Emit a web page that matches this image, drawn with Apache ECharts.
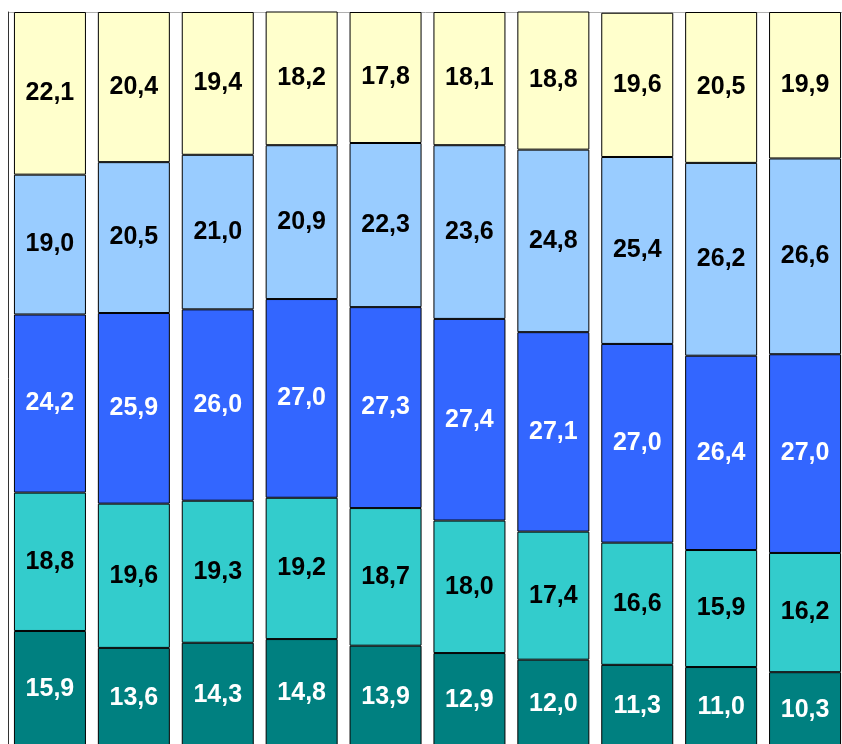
<!DOCTYPE html>
<html>
<head>
<meta charset="utf-8">
<script src="https://cdn.jsdelivr.net/npm/echarts@6/dist/echarts.min.js"></script>
<style>
  html, body { margin: 0; padding: 0; background: #fff; }
  #chart { width: 842px; height: 744px; }
</style>
</head>
<body>
<div id="chart"></div>
<script>
var categories = ['1', '2', '3', '4', '5', '6', '7', '8', '9', '10'];
// bottom to top
var darkTeal = [15.9, 13.6, 14.3, 14.8, 13.9, 12.9, 12.0, 11.3, 11.0, 10.3];
var teal = [18.8, 19.6, 19.3, 19.2, 18.7, 18.0, 17.4, 16.6, 15.9, 16.2];
var blue = [24.2, 25.9, 26.0, 27.0, 27.3, 27.4, 27.1, 27.0, 26.4, 27.0];
var lightBlue = [19.0, 20.5, 21.0, 20.9, 22.3, 23.6, 24.8, 25.4, 26.2, 26.6];
var yellow = [22.1, 20.4, 19.4, 18.2, 17.8, 18.1, 18.8, 19.6, 20.5, 19.9];

var chart = echarts.init(document.getElementById('chart'));

function seg(name, data, fill, textColor) {
    return {
        name: name,
        type: 'bar',
        stack: 'total',
        barWidth: 72,
        data: data,
        itemStyle: {
            color: fill,
            borderColor: '#000',
            borderWidth: 1
        },
        label: {
            show: true,
            position: 'inside',
            color: textColor,
            fontSize: 25,
            fontWeight: 'bold',
            fontFamily: '"Liberation Sans", Arial, sans-serif',
            formatter: function (p) {
                return p.value.toFixed(1).replace('.', ',');
            }
        }
    };
}

var option = {
    animation: false,
    grid: {
        left: 8, top: 12, width: 839, height: 736,
        outerBoundsMode: 'none'
    },
    xAxis: {
        type: 'category',
        data: categories,
        axisLine: { show: false },
        axisTick: { show: false },
        axisLabel: { show: false }
    },
    yAxis: {
        type: 'value',
        min: 0,
        max: 100,
        interval: 100,
        axisLine: { show: true, lineStyle: { color: '#333', width: 1 } },
        axisTick: { show: false },
        axisLabel: { show: false },
        splitLine: { show: true, lineStyle: { color: '#b0b0b0' } }
    },
    series: [
        seg('s1', darkTeal, '#008080', '#fff'),
        seg('s2', teal, '#33CCCC', '#000'),
        seg('s3', blue, '#3366FF', '#fff'),
        seg('s4', lightBlue, '#99CCFF', '#000'),
        seg('s5', yellow, '#FFFFCC', '#000')
    ]
};

chart.setOption(option);
</script>
</body>
</html>
